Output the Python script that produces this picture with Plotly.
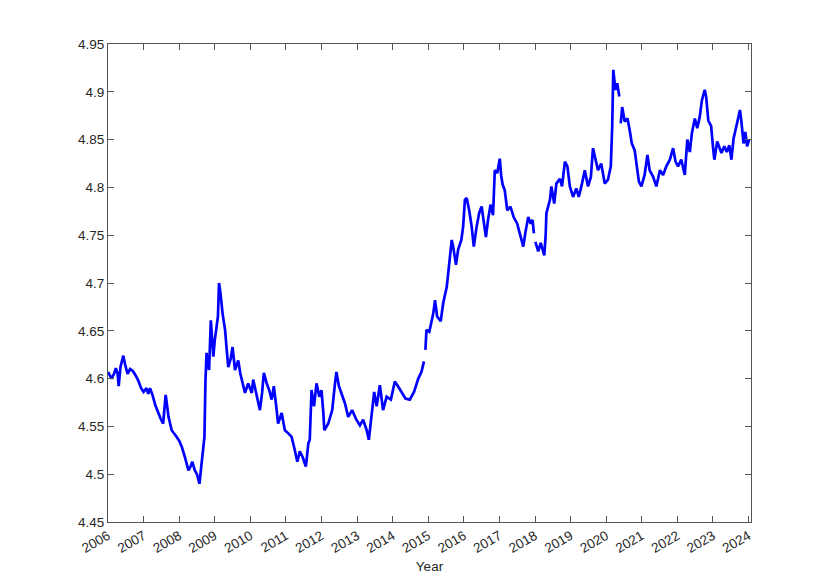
import plotly.graph_objects as go

years = [
    2006.00, 2006.05, 2006.10, 2006.17, 2006.22, 2006.27, 2006.30, 2006.35, 2006.43, 2006.48,
    2006.55, 2006.62, 2006.70, 2006.78, 2006.85, 2006.93, 2007.00, 2007.08, 2007.13, 2007.18,
    2007.25, 2007.33, 2007.41, 2007.48, 2007.55, 2007.62, 2007.66, 2007.70, 2007.79, 2007.86,
    2007.93, 2008.00, 2008.07, 2008.16, 2008.22, 2008.26, 2008.32, 2008.37, 2008.44, 2008.50,
    2008.57, 2008.63, 2008.68, 2008.71, 2008.74, 2008.77, 2008.80, 2008.84, 2008.89, 2008.93,
    2008.96, 2009.00, 2009.05, 2009.09, 2009.12, 2009.16, 2009.22, 2009.29, 2009.33, 2009.38,
    2009.45, 2009.50, 2009.57, 2009.62, 2009.66, 2009.72, 2009.76, 2009.85, 2009.94, 2010.04,
    2010.08, 2010.13, 2010.18, 2010.27, 2010.33, 2010.38, 2010.46, 2010.53, 2010.60, 2010.66,
    2010.74, 2010.78, 2010.88, 2010.97, 2011.06, 2011.16, 2011.25, 2011.32, 2011.39, 2011.47,
    2011.56, 2011.63, 2011.67, 2011.72, 2011.79, 2011.86, 2011.94, 2012.00, 2012.05, 2012.08,
    2012.19, 2012.30, 2012.38, 2012.42, 2012.49, 2012.56, 2012.66, 2012.75, 2012.86, 2012.98,
    2013.08, 2013.17, 2013.27, 2013.33, 2013.41, 2013.48, 2013.55, 2013.64, 2013.73, 2013.83,
    2013.95, 2014.06, 2014.15, 2014.25, 2014.36, 2014.48, 2014.60, 2014.72, 2014.81, 2014.88,
    2014.90, 2014.92, 2014.95, 2015.03, 2015.09, 2015.14, 2015.19, 2015.25, 2015.35, 2015.42,
    2015.52, 2015.59, 2015.66, 2015.70, 2015.78, 2015.84, 2015.93, 2015.98, 2016.03, 2016.08,
    2016.15, 2016.22, 2016.28, 2016.36, 2016.43, 2016.50, 2016.56, 2016.62, 2016.68, 2016.75,
    2016.82, 2016.87, 2016.94, 2017.01, 2017.05, 2017.09, 2017.15, 2017.22, 2017.31, 2017.40,
    2017.50, 2017.57, 2017.67, 2017.74, 2017.81, 2017.88, 2017.93, 2017.97, 2017.99, 2018.01,
    2018.09, 2018.16, 2018.22, 2018.26, 2018.30, 2018.32, 2018.42, 2018.46, 2018.54, 2018.60,
    2018.70, 2018.76, 2018.84, 2018.91, 2018.98, 2019.07, 2019.16, 2019.23, 2019.32, 2019.40,
    2019.49, 2019.57, 2019.63, 2019.70, 2019.77, 2019.86, 2019.96, 2020.05, 2020.13, 2020.17,
    2020.20, 2020.26, 2020.31, 2020.37, 2020.39, 2020.41, 2020.45, 2020.52, 2020.60, 2020.66,
    2020.72, 2020.80, 2020.87, 2020.92, 2020.99, 2021.08, 2021.16, 2021.22, 2021.32, 2021.41,
    2021.51, 2021.60, 2021.69, 2021.79, 2021.88, 2021.95, 2022.02, 2022.11, 2022.21, 2022.28,
    2022.35, 2022.41, 2022.49, 2022.56, 2022.63, 2022.69, 2022.77, 2022.81, 2022.87, 2022.95,
    2023.00, 2023.04, 2023.12, 2023.18, 2023.24, 2023.32, 2023.39, 2023.46, 2023.52, 2023.58,
    2023.64, 2023.71, 2023.76, 2023.80, 2023.86, 2023.91, 2023.96, 2024.02,
]

values = [
    4.607, 4.603, 4.600, 4.605, 4.611, 4.605, 4.592, 4.612, 4.624, 4.615,
    4.605, 4.610, 4.608, 4.603, 4.598, 4.590, 4.586, 4.590, 4.584, 4.590,
    4.583, 4.572, 4.564, 4.558, 4.553, 4.583, 4.572, 4.560, 4.546, 4.543,
    4.539, 4.535, 4.529, 4.518, 4.510, 4.504, 4.508, 4.513, 4.504, 4.500,
    4.490, 4.510, 4.525, 4.539, 4.599, 4.627, 4.615, 4.609, 4.661, 4.640,
    4.623, 4.640, 4.658, 4.665, 4.700, 4.690, 4.668, 4.651, 4.633, 4.612,
    4.621, 4.633, 4.609, 4.615, 4.619, 4.605, 4.599, 4.585, 4.595, 4.585,
    4.599, 4.590, 4.581, 4.567, 4.585, 4.606, 4.595, 4.588, 4.578, 4.592,
    4.567, 4.553, 4.564, 4.546, 4.543, 4.539, 4.525, 4.513, 4.524, 4.518,
    4.508, 4.532, 4.536, 4.588, 4.571, 4.595, 4.581, 4.588, 4.565, 4.546,
    4.553, 4.567, 4.595, 4.607, 4.592, 4.585, 4.574, 4.560, 4.567, 4.557,
    4.551, 4.557, 4.546, 4.536, 4.564, 4.586, 4.571, 4.593, 4.567, 4.581,
    4.578, 4.597, 4.592, 4.586, 4.579, 4.578, 4.586, 4.600, 4.607, 4.618,
    None, 4.630, 4.651, 4.649, 4.660, 4.668, 4.682, 4.665, 4.660, 4.679,
    4.696, 4.721, 4.745, 4.738, 4.719, 4.735, 4.745, 4.759, 4.787, 4.789,
    4.776, 4.759, 4.738, 4.759, 4.773, 4.780, 4.766, 4.748, 4.766, 4.782,
    4.771, 4.818, 4.815, 4.830, 4.812, 4.803, 4.797, 4.776, 4.780, 4.769,
    4.762, 4.752, 4.738, 4.755, 4.769, 4.762, 4.766, 4.752, None, 4.743,
    4.733, 4.742, 4.735, 4.729, 4.750, 4.773, 4.787, 4.801, 4.783, 4.804,
    4.809, 4.801, 4.827, 4.822, 4.801, 4.790, 4.799, 4.790, 4.804, 4.818,
    4.801, 4.811, 4.841, 4.829, 4.818, 4.825, 4.804, 4.808, 4.822, 4.864,
    4.923, 4.902, 4.909, 4.895, None, 4.867, 4.884, 4.869, 4.872, 4.860,
    4.846, 4.839, 4.818, 4.806, 4.801, 4.813, 4.834, 4.818, 4.811, 4.801,
    4.818, 4.813, 4.822, 4.829, 4.841, 4.827, 4.822, 4.829, 4.813, 4.850,
    4.837, 4.857, 4.872, 4.862, 4.874, 4.891, 4.902, 4.895, 4.870, 4.864,
    4.843, 4.829, 4.848, 4.841, 4.836, 4.843, 4.837, 4.844, 4.829, 4.851,
    4.862, 4.872, 4.881, 4.869, 4.846, 4.858, 4.843, 4.850,
]

x_ticks = list(range(2006, 2025))
x_tick_labels = [str(y) for y in x_ticks]
y_ticks = [4.45, 4.5, 4.55, 4.6, 4.65, 4.7, 4.75, 4.8, 4.85, 4.9, 4.95]
y_tick_labels = ["4.45", "4.5", "4.55", "4.6", "4.65", "4.7", "4.75", "4.8", "4.85", "4.9", "4.95"]

fig = go.Figure()
fig.add_trace(go.Scatter(
    x=years, y=values, mode="lines",
    line=dict(color="#0000ff", width=2.7),
    connectgaps=False, showlegend=False,
))

axis_font = dict(family="Liberation Sans, Arial, sans-serif", size=13.5, color="#262626")
fig.update_layout(
    width=814, height=571,
    margin=dict(l=100, r=71, t=36, b=57, autoexpand=False),
    paper_bgcolor="white", plot_bgcolor="white",
    font=axis_font,
    xaxis=dict(
        range=[2006, 2024.07], tickvals=x_ticks, ticktext=x_tick_labels,
        tickangle=-30, ticks="inside", ticklen=6, tickwidth=1, tickcolor="#555555",
        showline=True, linecolor="#555555", linewidth=1, mirror="ticks",
        showgrid=False, zeroline=False, tickfont=axis_font,
        title=dict(text="Year", font=axis_font, standoff=6),
        automargin=False,
    ),
    yaxis=dict(
        range=[4.45, 4.95], tickvals=y_ticks, ticktext=y_tick_labels,
        ticks="inside", ticklen=6, tickwidth=1, tickcolor="#555555",
        showline=True, linecolor="#555555", linewidth=1, mirror="ticks",
        showgrid=False, zeroline=False, tickfont=axis_font,
        automargin=False,
    ),
)

fig.write_html("out.html")
